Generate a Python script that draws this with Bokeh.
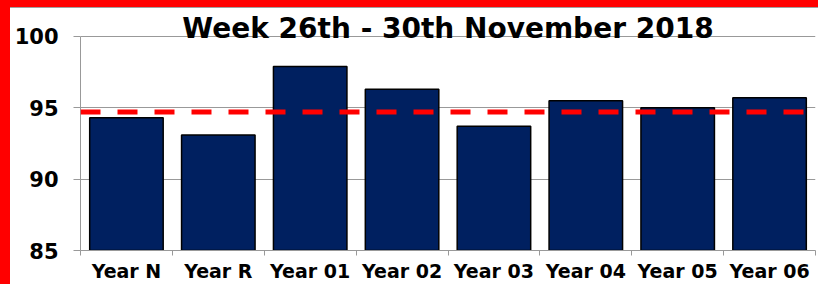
from bokeh.plotting import figure
from bokeh.models import FixedTicker, Span, Label, ColumnDataSource, Range1d
from bokeh.embed import file_html
from bokeh.resources import INLINE

categories = ["Year N", "Year R", "Year 01", "Year 02", "Year 03", "Year 04", "Year 05", "Year 06"]
values = [94.3, 93.1, 97.9, 96.3, 93.7, 95.5, 95.0, 95.7]
target = 94.7
y_ticks = [85, 90, 95, 100]
y_view_top = 101.96  # headroom above the 100 line so the title is not clipped
title_text = "Week 26th - 30th November 2018"

FONT = "DejaVu Sans"

centers = [i + 0.5 for i in range(len(categories))]
bounds = list(range(len(categories) + 1))

src = ColumnDataSource(dict(x=centers, top=values))

p = figure(width=818, height=284, output_backend="svg", toolbar_location=None,
           x_range=Range1d(0, len(categories)), y_range=Range1d(y_ticks[0], y_view_top),
           min_border_left=80, min_border_right=3, min_border_top=8, min_border_bottom=34)
p.outline_line_color = None
p.background_fill_color = "white"
p.background_fill_alpha = 0
p.border_fill_alpha = 0
p.styles = {"background-color": "white",
            "box-shadow": "inset 10px 7px 0 0 #ff0000, inset 0 8px 0 0 #a0a0a0"}

p.vbar(x="x", top="top", bottom=y_ticks[0], width=0.8, source=src,
       fill_color="#002060", line_color="black", line_width=1.5)

p.add_layout(Span(location=target, dimension="width", line_color="#ff0000",
                  line_width=5, line_dash="20 17"))

# axes
p.xaxis.ticker = FixedTicker(ticks=centers, minor_ticks=bounds)
p.xaxis.major_label_overrides = {c: lab for c, lab in zip(centers, categories)}
p.xaxis.major_tick_line_color = None
p.xaxis.minor_tick_line_color = "#999999"
p.xaxis.minor_tick_out = 5
p.xaxis.minor_tick_in = 0
p.xaxis.axis_line_color = "#999999"
p.xaxis.major_label_text_font = FONT
p.xaxis.major_label_text_font_style = "bold"
p.xaxis.major_label_text_font_size = "19px"
p.xaxis.major_label_text_color = "black"
p.xaxis.major_label_standoff = 3

p.yaxis.ticker = FixedTicker(ticks=y_ticks)
p.yaxis.bounds = (y_ticks[0], y_ticks[-1])
p.yaxis.minor_tick_line_color = None
p.yaxis.major_tick_line_color = "#999999"
p.yaxis.major_tick_out = 7
p.yaxis.major_tick_in = 0
p.yaxis.axis_line_color = "#999999"
p.yaxis.major_label_text_font = FONT
p.yaxis.major_label_text_font_style = "bold"
p.yaxis.major_label_text_font_size = "21px"
p.yaxis.major_label_text_color = "black"
p.yaxis.major_label_standoff = 15

p.xgrid.grid_line_color = None
p.ygrid.grid_line_color = "#999999"
p.ygrid.grid_line_width = 1

p.add_layout(Label(x=len(categories) / 2, y=y_ticks[-1], text=title_text,
                   text_align="center", text_baseline="middle", y_offset=8,
                   text_font=FONT, text_font_style="bold", text_font_size="28px",
                   text_color="black"))

open("out.html", "w").write(file_html(p, INLINE))
